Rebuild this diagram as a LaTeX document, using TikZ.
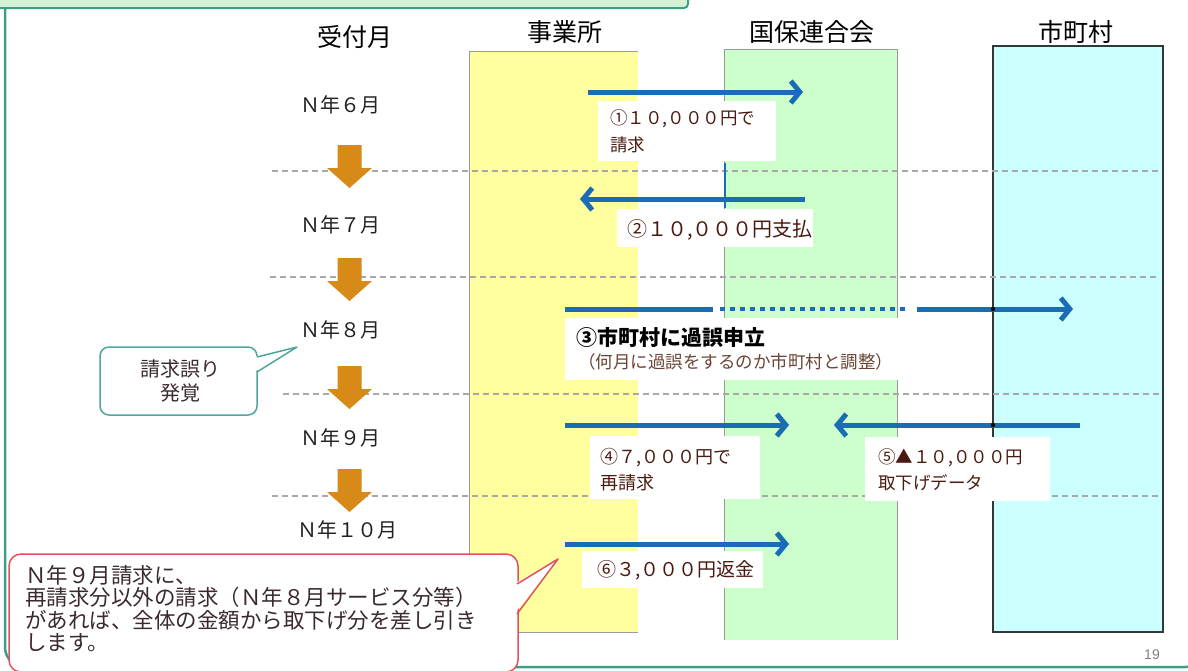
\documentclass[tikz,border=0pt]{standalone}
\usepackage{fontspec}
\setmainfont{Noto Sans CJK JP}
\newfontfamily\latinfont{Liberation Sans}
\usetikzlibrary{arrows.meta,calc}
\definecolor{framegreen}{HTML}{3C9E84}
\definecolor{titlefill}{HTML}{D6F0D6}
\definecolor{yellowfill}{HTML}{FFFF9F}
\definecolor{greenfill}{HTML}{CCFFCC}
\definecolor{cyanfill}{HTML}{CCFFFF}
\definecolor{colgray}{HTML}{9A9A9A}
\definecolor{cyanborder}{HTML}{303838}
\definecolor{dashgray}{HTML}{A8A8A8}
\definecolor{arrowblue}{HTML}{1A6CB4}
\definecolor{orangearr}{HTML}{D78A17}
\definecolor{lblcol}{HTML}{4A1A10}
\definecolor{subcol}{HTML}{6A4535}
\definecolor{monthcol}{HTML}{222222}
\definecolor{tealc}{HTML}{4BA89B}
\definecolor{redc}{HTML}{E05262}
\definecolor{calltext}{HTML}{3A2A2E}
\begin{document}
\begin{tikzpicture}[x=1pt,y=-1pt,
  hdr/.style={font=\fontsize{25}{28}\selectfont, inner sep=0pt, text=black},
  month/.style={font=\fontsize{20}{24}\selectfont, inner sep=0pt, text=monthcol},
  lbl/.style={inner sep=0pt, align=left, anchor=west, text=lblcol},
  colbox/.style={draw=none, inner sep=0pt},
  barrow/.style={draw=arrowblue, line width=5pt, -{Straight Barb[length=9pt,width=22pt]}},
  bline/.style={draw=arrowblue, line width=5pt},
  bdot/.style={draw=arrowblue, line width=4.5pt, dash pattern=on 4.5pt off 5.5pt},
  gdash/.style={draw=dashgray, line width=1.4pt, dash pattern=on 6pt off 4pt},
  downarrow/.pic={\fill[orangearr] (-12,0) -- (12,0) -- (12,23) -- (22.5,23) -- (0,43) -- (-22.5,23) -- (-12,23) -- cycle;}
  ]
\useasboundingbox (0,0) rectangle (1188,670);

% title box and outer frame
\draw[fill=titlefill, draw=framegreen, line width=2pt, rounded corners=4pt] (-10,-20) rectangle (688,8);
\draw[framegreen, line width=2.5pt, rounded corners=20pt] (5,8) -- (5,667) -- (1205,667) -- (1205,400);

% columns
\node[colbox, fill=yellowfill, minimum width=168pt, minimum height=580pt] (jig) at (554,342) {};
\draw[colgray, line width=1.2pt] (jig.south west) -- (jig.north west) -- (jig.north east);
\draw[colgray, line width=1.2pt] (jig.south west) -- (jig.south east);
\node[colbox, fill=greenfill, minimum width=172pt, minimum height=590pt] (koku) at (811,345) {};
\draw[colgray, line width=1.2pt] (koku.south west) -- (koku.north west) -- (koku.north east) -- (koku.south east);
\node[colbox, fill=cyanfill, draw=cyanborder, line width=1.4pt, minimum width=170pt, minimum height=586pt] (shi) at (1078,339) {};

% headers
\node[hdr] (h0) at (355,37) {受付月};
\node[hdr] (h1) at (565,32) {事業所};
\node[hdr] (h2) at (812,32) {国保連合会};
\node[hdr] (h3) at (1076,32) {市町村};

% dashed separators
\draw[gdash] (272,171) -- (1160,171);
\draw[gdash] (270,277) -- (1160,277);
\draw[gdash] (283,394) -- (1160,394);
\draw[gdash] (272,496) -- (1160,496);

% white label boxes
\fill[white] (598,101) rectangle (776,161);
\fill[white] (617,209) rectangle (813,247);
\fill[white] (565,318) rectangle (908,380);
\fill[white] (590,436) rectangle (760,499);
\fill[white] (865,437) rectangle (1050,501);
\fill[white] (582,551) rectangle (763,588);

% month labels
\node[month] (m6) at (340,105) {Ｎ年６月};
\node[month] (m7) at (340,225) {Ｎ年７月};
\node[month] (m8) at (340,330) {Ｎ年８月};
\node[month] (m9) at (340,438) {Ｎ年９月};
\node[month] (m10) at (347,530) {Ｎ年１０月};

% orange down arrows
\pic at (349.5,145) {downarrow};
\pic at (349.5,258) {downarrow};
\pic at (349.5,366) {downarrow};
\pic at (349.5,469) {downarrow};

% blue arrows
\coordinate (a1s) at (588,92);  \coordinate (a1e) at (803,92);
\coordinate (a2s) at (805,199); \coordinate (a2e) at (580,199);
\coordinate (a3s) at (565,309); \coordinate (a3m) at (713,309);
\coordinate (a3n) at (720,309); \coordinate (a3o) at (910,309);
\coordinate (a3p) at (917,309); \coordinate (a3e) at (1073,309);
\coordinate (a4s) at (565,425); \coordinate (a4e) at (789,425);
\coordinate (a5s) at (1080,425); \coordinate (a5e) at (834,425);
\coordinate (a6s) at (565,544); \coordinate (a6e) at (789,544);
\coordinate (tk1) at (725,163); \coordinate (tk2) at (725,208);

\draw[barrow] (a1s) -- (a1e);
\draw[barrow] (a2s) -- (a2e);
\draw[bline] (a3s) -- (a3m);
\draw[bdot] (a3n) -- (a3o);
\draw[barrow] (a3p) -- (a3e);
\draw[barrow] (a4s) -- (a4e);
\draw[barrow] (a5s) -- (a5e);
\draw[barrow] (a6s) -- (a6e);
\draw[arrowblue, line width=1.2pt] (tk1) -- (tk2);
\fill[black] (993,309) circle (2.2);
\fill[black] (993,425) circle (2.2);

% labels
\node[lbl, font=\fontsize{17.5}{27}\selectfont] (l1) at (610,131) {①１０,０００円で\\請求};
\node[lbl, font=\fontsize{20}{24}\selectfont] (l2) at (627,230) {②１０,０００円支払};
\node[lbl, font=\fontsize{21}{25}\selectfont\bfseries, text=black] (l3) at (576,337) {③市町村に過誤申立};
\node[lbl, font=\fontsize{17.5}{22}\selectfont, text=subcol] (l3b) at (578,362) {（何月に過誤をするのか市町村と調整）};
\node[lbl, font=\fontsize{18}{26}\selectfont] (l4) at (600,470) {④７,０００円で\\再請求};
\node[lbl, font=\fontsize{17.5}{26}\selectfont] (l5) at (878,470) {⑤▲１０,０００円\\取下げデータ};
\node[lbl, font=\fontsize{19}{23}\selectfont] (l6) at (597,570) {⑥３,０００円返金};

% teal callout
\node[draw=tealc, fill=white, line width=1.5pt, rounded corners=9pt, minimum width=157pt, minimum height=68pt, inner sep=0pt] (c1) at (178.5,381) {};
\coordinate (c1a) at (257,357); \coordinate (c1b) at (297,347); \coordinate (c1c) at (257,372);
\fill[white] ($(c1a)+(-3,0)$) -- (c1b) -- ($(c1c)+(-3,0)$) -- cycle;
\draw[tealc, line width=1.5pt, line join=round] (c1a) -- (c1b) -- (c1c);
\node[font=\fontsize{20}{24}\selectfont, text=calltext, align=center, inner sep=0pt] (c1t) at (180,381) {請求誤り\\発覚};

% red callout
\node[draw=redc, fill=white, line width=1.5pt, rounded corners=12pt, minimum width=509pt, minimum height=118pt, inner sep=0pt] (c2) at (263.5,613) {};
\coordinate (c2a) at (517,584); \coordinate (c2b) at (558,559); \coordinate (c2c) at (517,614);
\fill[white] ($(c2a)+(-3,0)$) -- (c2b) -- ($(c2c)+(-3,0)$) -- cycle;
\draw[redc, line width=1.5pt, line join=round] (c2a) -- (c2b) -- (c2c);
\node[font=\fontsize{21.5}{22.5}\selectfont, text=calltext, align=left, inner sep=0pt, anchor=north west] (c2t) at (25,565) {Ｎ年９月請求に、\\再請求分以外の請求（Ｎ年８月サービス分等）\\があれば、全体の金額から取下げ分を差し引き\\します。};

% page number
\node[font=\latinfont\fontsize{14}{16}\selectfont, text=gray, inner sep=0pt] (pg) at (1152,655) {19};
\end{tikzpicture}
\end{document}
